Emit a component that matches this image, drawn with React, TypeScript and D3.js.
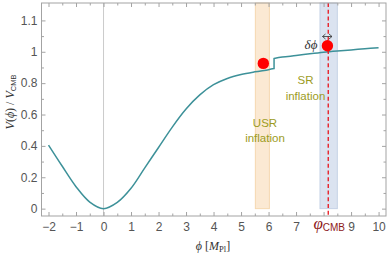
import React, { useRef, useEffect } from "react";
import * as d3 from "d3";

// potential, before and after the step at phi ~ 6.2
const phiUSR = [-2, -1.5, -1, -0.5, 0, 0.5, 1, 1.5, 2, 2.5, 3, 3.5, 4, 4.5, 5, 5.5, 6, 6.2];
const vUSR = [0.405, 0.27, 0.14, 0.042, 0, 0.04, 0.13, 0.26, 0.39, 0.52, 0.635, 0.725, 0.79, 0.83, 0.855, 0.872, 0.886, 0.893];
const phiSR = [6.2, 6.5, 7, 7.5, 8, 8.5, 9, 9.5, 10];
const vSR = [0.957, 0.966, 0.976, 0.987, 0.997, 1.005, 1.012, 1.019, 1.026];

// the two red points
const dotPhi = [5.81, 8.14];
const dotV = [0.926, 1.038];

// shaded regions and the CMB line
const usrBand = [5.52, 6.03];
const cmbBand = [7.87, 8.5];
const phiCMB = 8.17;

const xTicks = [-2, -1, 0, 1, 2, 3, 4, 5, 6, 7, 8, 9, 10];
const xTickLabels = ["\u22122", "\u22121", "0", "1", "2", "3", "4", "5", "6", "7", "", "9", "10"];
const yTicks = [0, 0.2, 0.4, 0.6, 0.8, 1.0, 1.2];
const yTickLabels = ["0", "0.2", "0.4", "0.6", "0.8", "1", "1.1"];

const W = 390;
const H = 256;

function App() {
    const svgRef = useRef<SVGSVGElement>(null);

    useEffect(() => {
        const svg = d3.select(svgRef.current);
        svg.selectAll("*").remove();

        const left = 41.5, right = 386, top = 3, bottom = 216;
        const x = d3.scaleLinear().domain([-2.255, 10.27]).range([left, right]);
        const y = d3.scaleLinear().domain([-0.047, 1.311]).range([bottom, top]);
        const yMax = y.domain()[1];

        const frameColor = "#a3a3a3";
        const labelColor = "#555";
        const sans = "'Liberation Sans', Arial, sans-serif";
        const serif = "'Liberation Serif', 'Times New Roman', serif";

        // bands
        const bands = [
            { r: usrBand, fill: "#fbe9d3", stroke: "#f5d8b0" },
            { r: cmbBand, fill: "#dbe3f0", stroke: "#c6d2e6" },
        ];
        svg.selectAll(".band")
            .data(bands)
            .join("rect")
            .attr("x", d => x(d.r[0]))
            .attr("y", y(yMax))
            .attr("width", d => x(d.r[1]) - x(d.r[0]))
            .attr("height", y(0) - y(yMax))
            .attr("fill", d => d.fill)
            .attr("stroke", d => d.stroke)
            .attr("stroke-width", 1);

        // zero line
        svg.append("line")
            .attr("x1", x(0)).attr("x2", x(0))
            .attr("y1", top).attr("y2", bottom)
            .attr("stroke", "#cccccc")
            .attr("stroke-width", 1);

        // the potential
        const line = d3.line<number>()
            .x(d => x(d))
            .curve(d3.curveCatmullRom.alpha(0.5));
        const d1 = line.y((d, i) => y(vUSR[i]))(phiUSR) || "";
        const d2 = line.y((d, i) => y(vSR[i]))(phiSR) || "";
        svg.append("path")
            .attr("d", d1 + d2.replace(/^M/, "L"))
            .attr("fill", "none")
            .attr("stroke", "#3d9199")
            .attr("stroke-width", 1.5);

        // CMB line
        svg.append("line")
            .attr("x1", x(phiCMB)).attr("x2", x(phiCMB))
            .attr("y1", top).attr("y2", bottom)
            .attr("stroke", "#e8141c")
            .attr("stroke-width", 1.3)
            .attr("stroke-dasharray", "4,2.7");

        // dots
        svg.selectAll(".dot")
            .data(dotPhi)
            .join("circle")
            .attr("cx", d => x(d))
            .attr("cy", (d, i) => y(dotV[i]))
            .attr("r", 5.7)
            .attr("fill", "#ff0000");

        // axes: inward Mathematica style ticks on all four sides
        const xMinor = d3.range(-2, 10.01, 0.5).filter(v => !xTicks.includes(v));
        const yMinor = d3.range(0.1, 1.25, 0.2);

        const styleAxis = (g: any) => {
            g.select(".domain").remove();
            g.selectAll("line").attr("stroke", frameColor);
            g.selectAll("text")
                .attr("fill", labelColor)
                .style("font-family", sans)
                .style("font-size", "12px");
        };

        svg.append("g")
            .attr("transform", `translate(0,${bottom})`)
            .call(d3.axisBottom(x).tickValues(xTicks).tickSize(-4).tickPadding(6)
                .tickFormat((d, i) => xTickLabels[i]))
            .call(styleAxis);
        svg.append("g")
            .attr("transform", `translate(0,${bottom})`)
            .call(d3.axisBottom(x).tickValues(xMinor).tickSize(-2.5).tickFormat(() => ""))
            .call(styleAxis);
        svg.append("g")
            .attr("transform", `translate(0,${top})`)
            .call(d3.axisTop(x).tickValues(xTicks).tickSize(-4).tickFormat(() => ""))
            .call(styleAxis);
        svg.append("g")
            .attr("transform", `translate(0,${top})`)
            .call(d3.axisTop(x).tickValues(xMinor).tickSize(-2.5).tickFormat(() => ""))
            .call(styleAxis);

        svg.append("g")
            .attr("transform", `translate(${left},0)`)
            .call(d3.axisLeft(y).tickValues(yTicks).tickSize(-4).tickPadding(4)
                .tickFormat((d, i) => yTickLabels[i]))
            .call(styleAxis);
        svg.append("g")
            .attr("transform", `translate(${left},0)`)
            .call(d3.axisLeft(y).tickValues(yMinor).tickSize(-2.5).tickFormat(() => ""))
            .call(styleAxis);
        svg.append("g")
            .attr("transform", `translate(${right},0)`)
            .call(d3.axisRight(y).tickValues(yTicks).tickSize(-4).tickFormat(() => ""))
            .call(styleAxis);
        svg.append("g")
            .attr("transform", `translate(${right},0)`)
            .call(d3.axisRight(y).tickValues(yMinor).tickSize(-2.5).tickFormat(() => ""))
            .call(styleAxis);

        // frame
        svg.append("rect")
            .attr("x", left).attr("y", top)
            .attr("width", right - left).attr("height", bottom - top)
            .attr("fill", "none")
            .attr("stroke", frameColor)
            .attr("stroke-width", 1);

        // region labels
        const olive = "#9c9c1e";
        const regionText = [
            { t: "SR", px: 305.5, py: 84 },
            { t: "inflation", px: 305.5, py: 100 },
            { t: "USR", px: 265, py: 127 },
            { t: "inflation", px: 265, py: 142 },
        ];
        svg.selectAll(".rlab")
            .data(regionText)
            .join("text")
            .attr("x", d => d.px)
            .attr("y", d => d.py)
            .attr("text-anchor", "middle")
            .attr("fill", olive)
            .style("font-family", sans)
            .style("font-size", "11.5px")
            .text(d => d.t);

        // delta phi with double arrow
        svg.append("text")
            .attr("x", 311).attr("y", 49)
            .attr("text-anchor", "middle")
            .attr("fill", "#333")
            .style("font-family", serif)
            .style("font-style", "italic")
            .style("font-size", "13px")
            .text("\u03b4\u03d5");
        const ax1 = 322.5, ax2 = 332, ay = 36.5;
        svg.append("line")
            .attr("x1", ax1).attr("x2", ax2).attr("y1", ay).attr("y2", ay)
            .attr("stroke", "#333").attr("stroke-width", 0.8);
        svg.append("path")
            .attr("d", `M${ax1 + 3},${ay - 2.5} L${ax1},${ay} L${ax1 + 3},${ay + 2.5} M${ax2 - 3},${ay - 2.5} L${ax2},${ay} L${ax2 - 3},${ay + 2.5}`)
            .attr("fill", "none")
            .attr("stroke", "#333").attr("stroke-width", 0.8);

        // phi_CMB label in place of tick 8
        const cmb = svg.append("text")
            .attr("x", x(phiCMB) + 1).attr("y", 229)
            .attr("text-anchor", "middle")
            .attr("fill", "#8e1a1a");
        cmb.append("tspan")
            .style("font-family", serif).style("font-style", "italic").style("font-size", "17px")
            .text("\u03c6");
        cmb.append("tspan")
            .attr("dy", 2)
            .style("font-family", sans).style("font-size", "10px")
            .text("CMB");

        // axis titles
        const xt = svg.append("text")
            .attr("x", 213).attr("y", 250)
            .attr("text-anchor", "middle")
            .attr("fill", "#333")
            .style("font-family", serif)
            .style("font-size", "12px");
        xt.append("tspan").style("font-style", "italic").text("\u03d5");
        xt.append("tspan").text(" [");
        xt.append("tspan").style("font-style", "italic").text("M");
        xt.append("tspan").attr("dy", 2).style("font-size", "8.5px").text("Pl");
        xt.append("tspan").attr("dy", -2).text("]");

        const yt = svg.append("text")
            .attr("transform", "translate(14,102) rotate(-90)")
            .attr("text-anchor", "middle")
            .attr("fill", "#333")
            .style("font-family", serif)
            .style("font-size", "12px");
        yt.append("tspan").style("font-style", "italic").text("V");
        yt.append("tspan").text("(");
        yt.append("tspan").style("font-style", "italic").text("\u03d5");
        yt.append("tspan").text(") / ");
        yt.append("tspan").style("font-style", "italic").text("V");
        yt.append("tspan").attr("dy", 2).style("font-family", sans).style("font-size", "7.5px").text("CMB");
    }, []);

    return (
        <svg
            ref={svgRef}
            width={W}
            height={H}
            style={{ position: "absolute", left: 0, top: 0, background: "#fff" }}
        ></svg>
    );
}

export default App;
